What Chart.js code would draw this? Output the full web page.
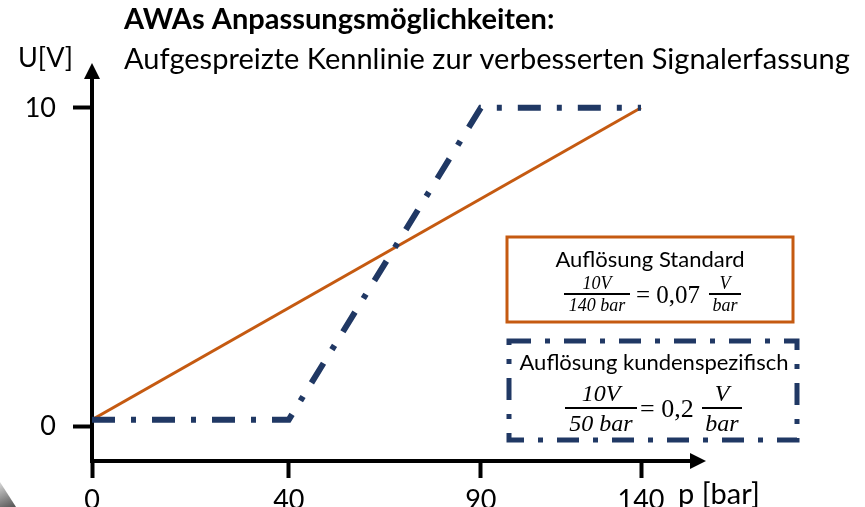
<!DOCTYPE html>
<html>
<head>
<meta charset="utf-8">
<title>AWAs Anpassungsmöglichkeiten</title>
<script src="https://cdn.jsdelivr.net/npm/chart.js@4.4.1/dist/chart.umd.min.js"></script>
<style>
  html, body { margin: 0; padding: 0; background: #fff; }
  canvas { display: block; }
</style>
</head>
<body>
<canvas id="kennlinie" width="865" height="507"></canvas>
<script>
// data
const xTicks = [0, 40, 90, 140];          // p [bar]
const yTicks = [0, 10];                   // U [V]
const standardP = [0, 140];
const standardU = [0.2, 10];
const customP = [0, 40, 90, 140];
const customU = [0.2, 0.2, 10, 10];

const ORANGE = '#C55A11';
const NAVY = '#203864';
const FONT = 'Lato, "Open Sans", sans-serif';
const MATH = '"Liberation Serif", "DejaVu Serif", serif';

// the slide's p axis is not to scale: piecewise linear scale
class PiecewiseScale extends Chart.LinearScale {
    _toDecimal(v) {
        const b = this.options.breaks;
        let i = 0;
        while (i < b.values.length - 2 && v > b.values[i + 1]) i++;
        const t = (v - b.values[i]) / (b.values[i + 1] - b.values[i]);
        return b.at[i] + t * (b.at[i + 1] - b.at[i]);
    }
    _fromDecimal(d) {
        const b = this.options.breaks;
        let i = 0;
        while (i < b.at.length - 2 && d > b.at[i + 1]) i++;
        const t = (d - b.at[i]) / (b.at[i + 1] - b.at[i]);
        return b.values[i] + t * (b.values[i + 1] - b.values[i]);
    }
    getPixelForValue(value) {
        return this.getPixelForDecimal(this._toDecimal(value));
    }
    getValueForPixel(pixel) {
        return this._fromDecimal(this.getDecimalForPixel(pixel));
    }
}
PiecewiseScale.id = 'piecewise';
PiecewiseScale.defaults = Chart.LinearScale.defaults;
Chart.register(PiecewiseScale);

function toPoints(xs, ys) {
    return xs.map((x, i) => ({ x: x, y: ys[i] }));
}

function arrow(ctx, tipX, tipY, dir) {
    ctx.beginPath();
    if (dir === 'up') {
        ctx.moveTo(tipX, tipY);
        ctx.lineTo(tipX - 8, tipY + 16);
        ctx.lineTo(tipX + 8, tipY + 16);
    } else {
        ctx.moveTo(tipX, tipY);
        ctx.lineTo(tipX - 16, tipY - 8);
        ctx.lineTo(tipX - 16, tipY + 8);
    }
    ctx.closePath();
    ctx.fill();
}

function fraction(ctx, cx, lineY, top, bottom, size, lineW) {
    ctx.font = 'italic ' + size + 'px ' + MATH;
    ctx.textAlign = 'center';
    ctx.textBaseline = 'alphabetic';
    ctx.fillText(top, cx, lineY - size * 0.3);
    ctx.textBaseline = 'top';
    ctx.fillText(bottom, cx, lineY + size * 0.2);
    ctx.fillRect(cx - lineW / 2, lineY - 1, lineW, 2);
}

const slidePlugin = {
    id: 'slide',
    afterDraw(chart) {
        const ctx = chart.ctx;
        const area = chart.chartArea;
        ctx.save();
        ctx.fillStyle = '#000';

        // axis arrows
        arrow(ctx, area.left, area.top - 13, 'up');
        arrow(ctx, area.right + 14, area.bottom, 'right');

        // heading
        ctx.textAlign = 'left';
        ctx.textBaseline = 'middle';
        ctx.font = 'bold 29px ' + FONT;
        ctx.fillText('AWAs Anpassungsmöglichkeiten:', 124, 20);
        ctx.font = '29px ' + FONT;
        ctx.fillText('Aufgespreizte Kennlinie zur verbesserten Signalerfassung', 124, 60);
        ctx.font = '27px ' + FONT;
        ctx.fillText('U[V]', 18, 58);
        ctx.font = '29px ' + FONT;
        ctx.fillText('p [bar]', 678, 495);

        // box: standard resolution
        ctx.strokeStyle = ORANGE;
        ctx.lineWidth = 3;
        ctx.strokeRect(507, 237, 286, 85);
        ctx.fillStyle = '#000';
        ctx.textAlign = 'center';
        ctx.font = '22px ' + FONT;
        ctx.fillText('Auflösung Standard', 650, 260);
        fraction(ctx, 597, 294, '10V', '140 bar', 18, 66);
        ctx.font = '25px ' + MATH;
        ctx.textAlign = 'left';
        ctx.textBaseline = 'middle';
        ctx.fillText('= 0,07', 636, 296);
        fraction(ctx, 725, 294, 'V', 'bar', 18, 32);

        // box: customer specific resolution
        ctx.strokeStyle = NAVY;
        ctx.lineWidth = 5;
        ctx.setLineDash([22, 14, 5, 14]);
        ctx.strokeRect(509, 341, 288, 99);
        ctx.setLineDash([]);
        ctx.textAlign = 'center';
        ctx.textBaseline = 'middle';
        ctx.font = '22px ' + FONT;
        ctx.fillText('Auflösung kundenspezifisch', 654, 363);
        fraction(ctx, 601, 408, '10V', '50 bar', 24, 72);
        ctx.font = '26px ' + MATH;
        ctx.textAlign = 'left';
        ctx.textBaseline = 'middle';
        ctx.fillText('= 0,2', 640, 410);
        fraction(ctx, 722, 408, 'V', 'bar', 24, 40);

        // grey slide decoration bottom left
        const g = ctx.createLinearGradient(0, 482, 12, 507);
        g.addColorStop(0, '#d8d8d8');
        g.addColorStop(1, '#5a5a5a');
        ctx.fillStyle = g;
        ctx.beginPath();
        ctx.moveTo(0, 482);
        ctx.lineTo(16, 507);
        ctx.lineTo(0, 507);
        ctx.closePath();
        ctx.fill();
        ctx.restore();
    }
};

Chart.defaults.font.family = FONT;
Chart.defaults.color = '#000';

new Chart(document.getElementById('kennlinie'), {
    type: 'line',
    data: {
        datasets: [
            {
                label: 'Auflösung kundenspezifisch',
                data: toPoints(customP, customU),
                borderColor: NAVY,
                borderWidth: 6,
                borderDash: [23, 16, 5, 16],
                borderCapStyle: 'butt',
                borderJoinStyle: 'miter',
                pointRadius: 0,
                tension: 0,
                order: 0
            },
            {
                label: 'Auflösung Standard',
                data: toPoints(standardP, standardU),
                borderColor: ORANGE,
                borderWidth: 3,
                pointRadius: 0,
                tension: 0,
                order: 1
            }
        ]
    },
    options: {
        responsive: false,
        animation: false,
        layout: { padding: { top: 76, right: 173, left: 0, bottom: 0 } },
        plugins: {
            legend: { display: false },
            title: { display: false },
            tooltip: { enabled: false }
        },
        scales: {
            x: {
                type: 'piecewise',
                min: 0,
                max: 152,
                breaks: { values: xTicks, at: [0, 0.328, 0.648, 0.915] },
                afterBuildTicks: s => { s.ticks = xTicks.map(v => ({ value: v })); },
                afterFit: s => { s.height = 46; },
                border: { display: true, color: '#000', width: 4 },
                grid: { drawOnChartArea: false, tickLength: 17, tickWidth: 4, tickColor: '#000' },
                ticks: { font: { size: 27 }, padding: 6, maxRotation: 0, autoSkip: false }
            },
            y: {
                type: 'linear',
                min: -1.1,
                max: 11,
                afterBuildTicks: s => { s.ticks = yTicks.map(v => ({ value: v })); },
                afterFit: s => { s.width = 92; },
                border: { display: true, color: '#000', width: 4 },
                grid: { drawOnChartArea: false, tickLength: 19, tickWidth: 4, tickColor: '#000' },
                ticks: { font: { size: 27 }, padding: 17 }
            }
        }
    },
    plugins: [slidePlugin]
});
</script>
</body>
</html>
